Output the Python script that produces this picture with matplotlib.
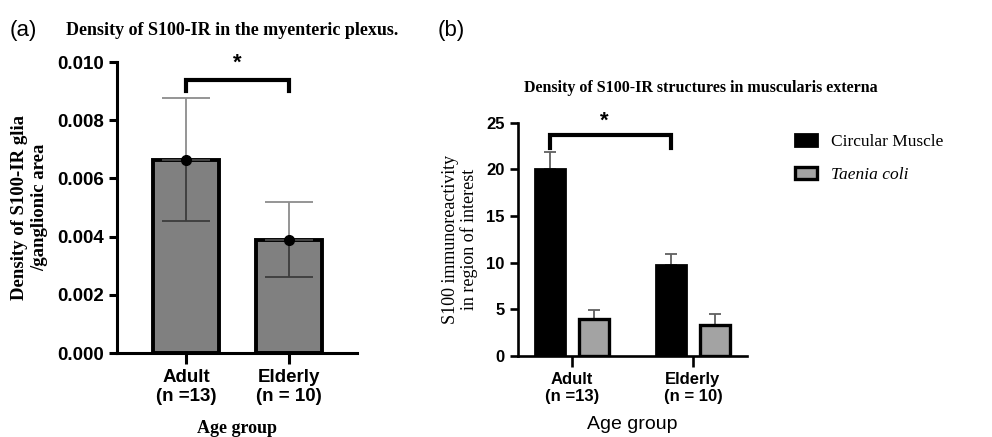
import matplotlib
matplotlib.use("Agg")
import matplotlib.pyplot as plt
from matplotlib.patches import Patch
import numpy as np

# panel (a): glia density in the myenteric plexus
groups = ["Adult\n(n =13)", "Elderly\n(n = 10)"]
glia_mean = [0.00665, 0.0039]
glia_sd = [0.0021, 0.0013]

# panel (b): S100 immunoreactivity in muscularis externa
series = ["Circular Muscle", "Taenia coli"]
circular_mean = [20.0, 9.8]
circular_err = [1.9, 1.1]
taenia_mean = [4.0, 3.3]
taenia_err = [0.9, 1.2]

SANS = "Liberation Sans"
SERIF = "Liberation Serif"


def style_axes(ax, size, lw):
    for side in ["top", "right"]:
        ax.spines[side].set_visible(False)
    for side in ["left", "bottom"]:
        ax.spines[side].set_linewidth(lw)
    ax.tick_params(axis="y", direction="out", length=6, width=lw)
    ax.tick_params(axis="x", direction="out", length=8, width=lw)
    for lab in ax.get_yticklabels() + ax.get_xticklabels():
        lab.set_fontfamily(SANS)
        lab.set_fontweight("bold")
        lab.set_fontsize(size)


def plot_panel_a(fig):
    ax = fig.add_axes([0.118, 0.192, 0.242, 0.666])
    x = np.arange(len(groups))
    ax.bar(x, glia_mean, width=0.64, color="#808080", edgecolor="black", linewidth=2.8, zorder=2)
    # upper whiskers lighter, lower whiskers darker (drawn over the bar)
    ax.errorbar(x, glia_mean, yerr=[[0, 0], glia_sd], fmt="none", ecolor="#8c8c8c",
                elinewidth=1.3, capsize=17, capthick=1.3, zorder=3)
    ax.errorbar(x, glia_mean, yerr=[glia_sd, [0, 0]], fmt="none", ecolor="#3c3c3c",
                elinewidth=1.3, capsize=17, capthick=1.3, zorder=3)
    ax.plot(x, glia_mean, "o", color="black", markersize=7, zorder=4)
    ax.set_xlim(-0.67, 1.66)
    ax.set_ylim(0, 0.010)
    ticks = np.arange(0, 0.0101, 0.002)
    ax.set_yticks(ticks)
    ax.set_yticklabels([f"{v:.3f}" for v in ticks])
    ax.set_xticks(x)
    ax.set_xticklabels(groups, linespacing=1.15)
    style_axes(ax, 13.5, 2.2)

    # significance bracket
    ax.plot([0, 0, 1, 1], [0.0090, 0.0094, 0.0094, 0.0090], color="black", lw=3,
            clip_on=False, solid_joinstyle="miter")
    ax.text(0.5, 0.0096, "*", ha="center", va="bottom", fontsize=16, fontweight="bold",
            family=SANS, clip_on=False)

    ax.set_ylabel("Density of S100-IR glia\n/ganglionic area", family=SERIF,
                  fontweight="bold", fontsize=13.5, labelpad=6, linespacing=1.3)
    ax.set_xlabel("Age group", family=SERIF, fontweight="bold", fontsize=13, labelpad=11)
    fig.text(0.234, 0.931, "Density of S100-IR in the myenteric plexus.", family=SERIF,
             fontweight="bold", fontsize=13, ha="center", va="center")
    fig.text(0.010, 0.931, "(a)", family=SANS, fontsize=16, va="center")


def plot_panel_b(fig):
    ax = fig.add_axes([0.522, 0.185, 0.231, 0.534])
    x = np.arange(len(groups))
    off = 0.18
    w = 0.25
    ax.bar(x - off, circular_mean, width=w, color="black", edgecolor="black",
           linewidth=2, zorder=2, label=series[0])
    ax.bar(x + off, taenia_mean, width=w, color="#a3a3a3", edgecolor="black",
           linewidth=2.4, zorder=2, label=series[1])
    ax.errorbar(x - off, circular_mean, yerr=[[0, 0], circular_err], fmt="none",
                ecolor="#606060", elinewidth=1.3, capsize=4.5, capthick=1.3, zorder=1)
    ax.errorbar(x + off, taenia_mean, yerr=[[0, 0], taenia_err], fmt="none",
                ecolor="#606060", elinewidth=1.3, capsize=4.5, capthick=1.3, zorder=1)
    ax.set_xlim(-0.446, 1.446)
    ax.set_ylim(0, 25)
    ax.set_yticks([0, 5, 10, 15, 20, 25])
    ax.set_xticks(x)
    ax.set_xticklabels(groups, linespacing=1.15)
    style_axes(ax, 12, 1.9)

    # significance bracket between circular muscle bars
    ax.plot([-off, -off, 1 - off, 1 - off], [22.3, 23.7, 23.7, 22.3], color="black",
            lw=3, clip_on=False, solid_joinstyle="miter")
    ax.text(0.27, 24.0, "*", ha="center", va="bottom", fontsize=16, fontweight="bold",
            family=SANS, clip_on=False)

    ax.set_ylabel("S100 immunoreactivity\nin region of interest", family=SERIF,
                  fontsize=13, labelpad=6, linespacing=1.05)
    ax.set_xlabel("Age group", family=SANS, fontsize=14, labelpad=9)
    fig.text(0.706, 0.799, "Density of S100-IR structures in muscularis externa",
             family=SERIF, fontweight="bold", fontsize=11.5, ha="center", va="center")
    fig.text(0.441, 0.931, "(b)", family=SANS, fontsize=16, va="center")

    handles = [Patch(facecolor="black", edgecolor="black", linewidth=2),
               Patch(facecolor="#a3a3a3", edgecolor="black", linewidth=2.4)]
    leg = fig.legend(handles, series, loc="upper left", bbox_to_anchor=(0.786, 0.73),
                     frameon=False, handlelength=1.25, handleheight=0.7,
                     labelspacing=1.0, handletextpad=0.8,
                     prop={"family": SERIF, "size": 12.5})
    leg.get_texts()[1].set_fontstyle("italic")


def main():
    fig = plt.figure(figsize=(9.92, 4.37), dpi=100)
    plot_panel_a(fig)
    plot_panel_b(fig)
    fig.savefig("out.png", dpi=100)
    plt.close(fig)


if __name__ == "__main__":
    main()
